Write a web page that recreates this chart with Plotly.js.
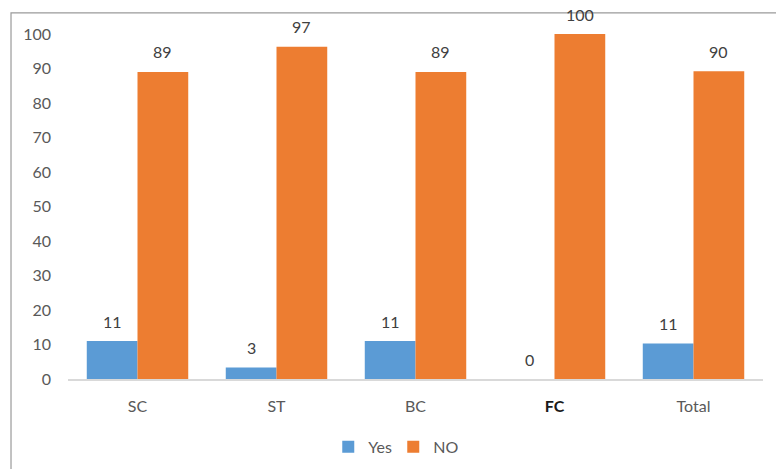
<!DOCTYPE html>
<html>
<head>
<meta charset="utf-8">
<script src="https://cdn.plot.ly/plotly-3.0.1.min.js"></script>
<style>html,body{margin:0;padding:0;background:#fff;}#chart{width:776px;height:469px;}</style>
</head>
<body>
<div id="chart"></div>
<script>
var categories = ["SC", "ST", "BC", "FC", "Total"];
var yesValues = [11, 3.3, 11, 0, 10.3];
var noValues = [89, 96.3, 89, 100, 89.2];
var yesLabels = ["11", "3", "11", "0", "11"];
var noLabels = ["89", "97", "89", "100", "90"];
var tickLabels = ["SC", "ST", "BC", "<b>FC</b>", "Total"];
var yTicks = [0, 10, 20, 30, 40, 50, 60, 70, 80, 90, 100];

var FONT = "Lato, 'Open Sans', sans-serif";
var barHalf = 25.4;

var traces = [
  {type: "bar", name: "Yes", x: categories, y: yesValues, marker: {color: "#5B9BD5"}, hoverinfo: "skip"},
  {type: "bar", name: "NO", x: categories, y: noValues, marker: {color: "#ED7D31"}, hoverinfo: "skip"}
];

var annotations = [];
categories.forEach(function (c, i) {
  annotations.push({x: c, y: yesValues[i], text: yesLabels[i], showarrow: false, xshift: -barHalf, yshift: 20, yanchor: "middle",
    font: {family: FONT, size: 16, color: "#404040"}});
  annotations.push({x: c, y: noValues[i], text: noLabels[i], showarrow: false, xshift: barHalf, yshift: 20, yanchor: "middle",
    font: {family: FONT, size: 16, color: "#404040"}});
});

var layout = {
  width: 776, height: 469,
  margin: {l: 68, r: 13, t: 34, b: 90, autoexpand: false},
  paper_bgcolor: "#ffffff", plot_bgcolor: "#ffffff",
  barmode: "group", bargap: 0.27, bargroupgap: 0,
  font: {family: FONT, size: 16, color: "#595959"},
  xaxis: {
    type: "category", tickvals: categories, ticktext: tickLabels,
    showline: true, linecolor: "#d9d9d9", linewidth: 1.5, showgrid: false, zeroline: false,
    ticks: "", ticklabelstandoff: 12, tickfont: {family: FONT, size: 16, color: "#595959"}
  },
  yaxis: {
    range: [0, 100], tickvals: yTicks, showgrid: false, zeroline: false, showline: false,
    ticks: "", ticklabelstandoff: 16, tickfont: {family: FONT, size: 16, color: "#595959"}
  },
  showlegend: true,
  legend: {orientation: "h", x: 0.468, xanchor: "center", yref: "container", y: 0.047, yanchor: "middle",
    font: {family: FONT, size: 16, color: "#595959"}, itemwidth: 30, entrywidth: 20, traceorder: "normal"},
  annotations: annotations,
  shapes: [{type: "rect", xref: "paper", yref: "paper", x0: -0.082, x1: 1.05, y0: -0.3, y1: 1.061,
    line: {color: "#9a9a9a", width: 1.2}, fillcolor: "rgba(0,0,0,0)", layer: "below"}]
};

var fcIdx = categories.indexOf("FC");
Plotly.newPlot("chart", traces, layout, {staticPlot: true}).then(function () {
  var ticks = document.querySelectorAll(".xtick text");
  if (ticks[fcIdx]) ticks[fcIdx].style.fill = "#1a1a1a";
});
</script>
</body>
</html>
